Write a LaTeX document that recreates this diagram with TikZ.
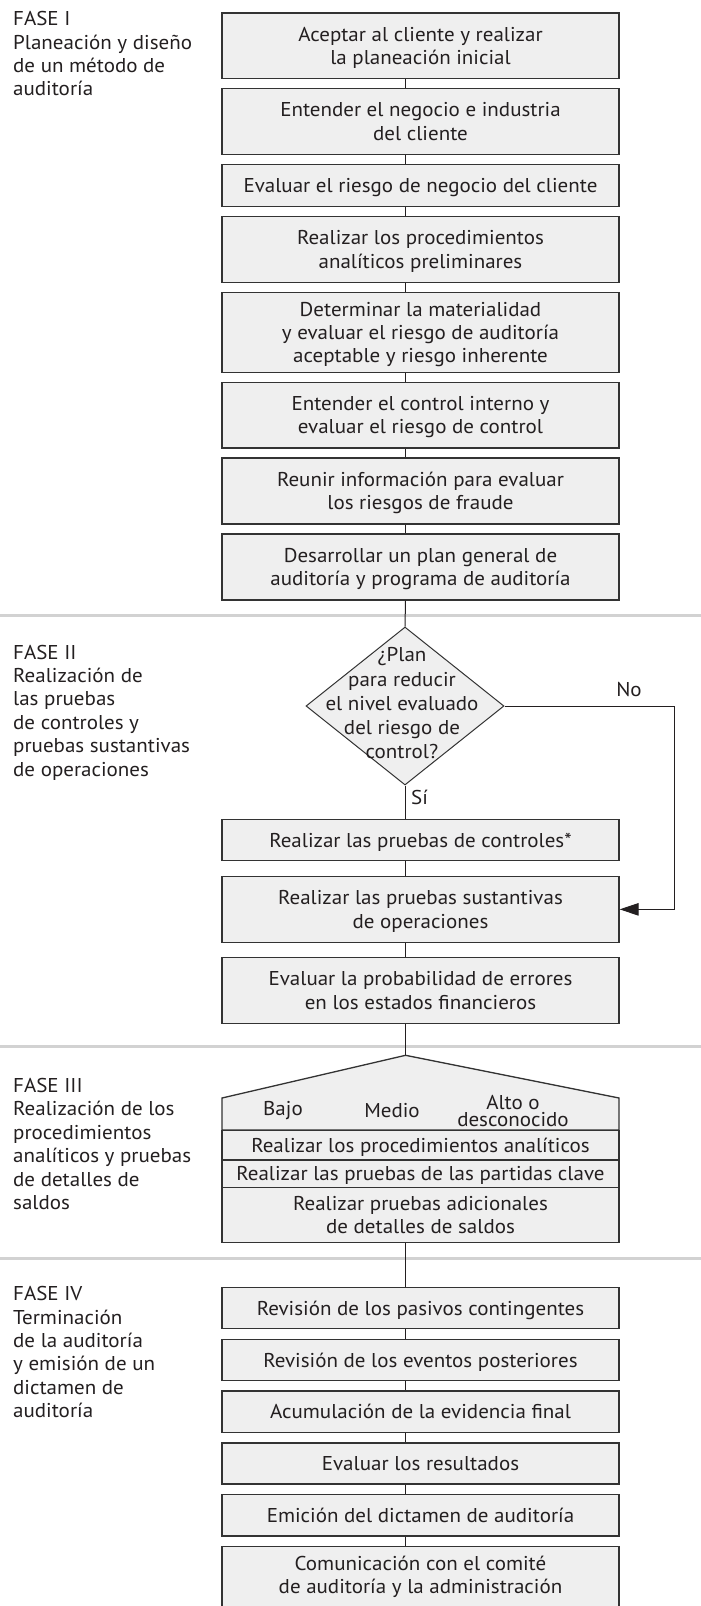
\documentclass[tikz,border=0pt]{standalone}
\usepackage{fontspec}
\setmainfont[FakeStretch=1.05]{PT Sans}
\usetikzlibrary{arrows.meta,shapes.geometric}
\definecolor{boxfill}{HTML}{EFEFEF}
\definecolor{boxline}{HTML}{333333}
\definecolor{sepgray}{HTML}{D2D2D2}
\definecolor{txt}{HTML}{231F20}
\begin{document}
\begin{tikzpicture}[x=1pt,y=-1pt,
  every node/.style={font=\fontsize{20}{23.4}\selectfont, text=txt},
  stepbox/.style={draw=boxline, line width=1.3pt, fill=boxfill, minimum width=397pt,
    inner sep=0pt, align=center, anchor=north, text depth=0pt},
  rowbox/.style={stepbox},
  phase/.style={anchor=north west, align=left, inner sep=0pt},
  conn/.style={draw=txt, line width=1pt},
  sep/.style={draw=sepgray, line width=3pt},
  lbl/.style={inner sep=0pt}
]
\fill[white] (0,0) rectangle (701,1606);
\useasboundingbox (0,0) rectangle (701,1606);
\coordinate (cx) at (405.5,0);

% separators
\draw[sep] (0,615) -- (701,615);
\draw[sep] (0,1046.7) -- (701,1046.7);
\draw[sep] (0,1258.7) -- (701,1258.7);

% phase labels
\node[phase] (f1) at (13,11.3) {FASE I\\Planeación y diseño\\de un método de\\auditoría};
\node[phase] (f2) at (13,644.7) {FASE II\\Realización de\\las pruebas\\de controles y\\pruebas sustantivas\\de operaciones};
\node[phase] (f3) at (13,1078) {FASE III\\Realización de los\\procedimientos\\analíticos y pruebas\\de detalles de\\saldos};
\node[phase] (f4) at (13,1286.3) {FASE IV\\Terminación\\de la auditoría\\y emisión de un\\dictamen de\\auditoría};

% phase I boxes
\node[stepbox, minimum height=65.4pt] (b1) at (420.5,12.3) {Aceptar al cliente y realizar\\la planeación inicial};
\node[stepbox, minimum height=66.3pt] (b2) at (420.5,87.7) {Entender el negocio e industria\\del cliente};
\node[stepbox, minimum height=42pt] (b3) at (420.5,163.7) {Evaluar el riesgo de negocio del cliente};
\node[stepbox, minimum height=66pt] (b4) at (420.5,215.7) {Realizar los procedimientos\\analíticos preliminares};
\node[stepbox, minimum height=80pt] (b5) at (420.5,291.7) {Determinar la materialidad\\y evaluar el riesgo de auditoría\\aceptable y riesgo inherente};
\node[stepbox, minimum height=65.6pt] (b6) at (420.5,381.7) {Entender el control interno y\\evaluar el riesgo de control};
\node[stepbox, minimum height=66pt] (b7) at (420.5,457.3) {Reunir información para evaluar\\los riesgos de fraude};
\node[stepbox, minimum height=66pt] (b8) at (420.5,533.3) {Desarrollar un plan general de\\auditoría y programa de auditoría};

% phase II
\node[diamond, draw=boxline, line width=1pt, fill=boxfill, minimum width=198pt,
  minimum height=158pt, inner sep=0pt] (dia) at (405,706) {};
\node[lbl, align=center, font=\fontsize{20}{24.2}\selectfont] (diatext) at (402,703.3) {¿Plan\\para reducir\\el nivel evaluado\\del riesgo de\\control?};
\node[lbl, anchor=west] (si) at (411,797) {Sí};
\node[lbl] (no) at (629,690) {No};
\node[stepbox, minimum height=41.5pt] (ctrl) at (420.5,818.5) {Realizar las pruebas de controles*};
\node[stepbox, minimum height=66pt] (sust) at (420.5,875.7) {Realizar las pruebas sustantivas\\de operaciones};
\node[stepbox, minimum height=66pt] (prob) at (420.5,956.7) {Evaluar la probabilidad de errores\\en los estados financieros};
\coordinate (nocorner) at (674,706);

% phase III
\coordinate (p3apex) at (405.5,1055.3);
\draw[draw=boxline, line width=1.3pt, fill=boxfill, line join=miter]
  (p3apex) -- (619,1098) -- (619,1130) -- (222,1130) -- (222,1098) -- cycle;
\node[lbl] (bajo) at (283,1111) {Bajo};
\node[lbl] (medio) at (392,1111) {Medio};
\node[lbl, align=center, font=\fontsize{20}{17}\selectfont] (alto) at (513,1111.2) {Alto o\\desconocido};
\node[rowbox, minimum height=29.3pt] (r1) at (420.5,1130) {Realizar los procedimientos analíticos};
\node[rowbox, minimum height=27.4pt] (r2) at (420.5,1159.3) {Realizar las pruebas de las partidas clave};
\node[rowbox, minimum height=55pt] (r3) at (420.5,1186.7) {Realizar pruebas adicionales\\de detalles de saldos};

% phase IV
\node[stepbox, minimum height=41pt] (pas) at (420.5,1286.7) {Revisión de los pasivos contingentes};
\node[stepbox, minimum height=41.3pt] (eve) at (420.5,1338.7) {Revisión de los eventos posteriores};
\node[stepbox, minimum height=41.4pt] (acu) at (420.5,1390.3) {Acumulación de la evidencia final};
\node[stepbox, minimum height=41pt] (eva) at (420.5,1442.3) {Evaluar los resultados};
\node[stepbox, minimum height=41.3pt] (emi) at (420.5,1494) {Emición del dictamen de auditoría};
\node[stepbox, minimum height=66pt, text depth=9.6pt] (com) at (420.5,1546) {Comunicación con el comité\\de auditoría y la administración};

% connectors
\foreach \a/\b in {b1/b2,b2/b3,b3/b4,b4/b5,b5/b6,b6/b7,b7/b8,ctrl/sust,sust/prob,pas/eve,eve/acu,acu/eva,eva/emi,emi/com}
  \draw[conn] (\a.south -| cx) -- (\b.north -| cx);
\draw[conn] (b8.south -| cx) -- (dia.north);
\draw[conn] (dia.south) -- (dia.south |- ctrl.north);
\draw[conn, -{Triangle[length=19pt,width=12.5pt]}] (dia.east) -- (nocorner) |- (sust.east);
\draw[conn] (prob.south -| cx) -- (p3apex);
\draw[conn] (r3.south -| cx) -- (pas.north -| cx);
\end{tikzpicture}
\end{document}
